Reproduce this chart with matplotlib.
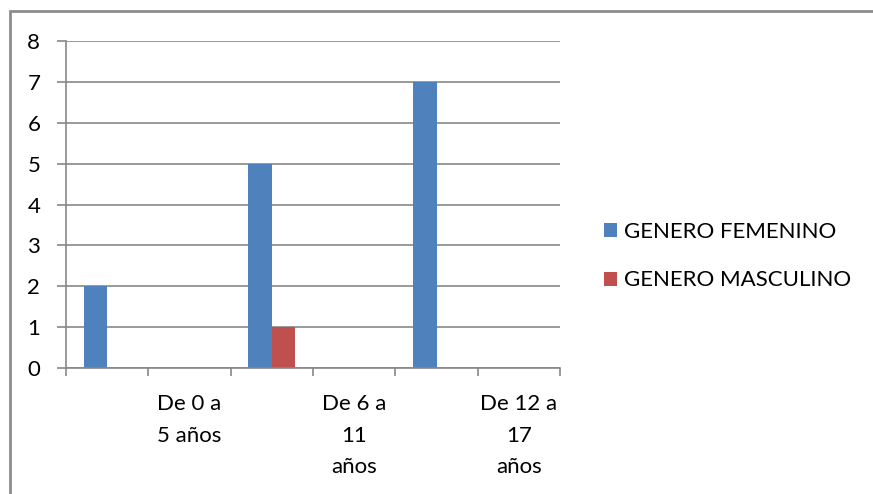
import numpy as np
import matplotlib.pyplot as plt
from matplotlib.patches import Rectangle

plt.rcParams['font.family'] = ['Lato', 'DejaVu Sans']

# rangos de edad (las casillas vacias separan los grupos)
categorias = ["", "De 0 a\n5 años", "", "De 6 a\n11\naños", "", "De 12 a\n17\naños"]
femenino = [2, 0, 5, 0, 7, 0]
masculino = [0, 0, 1, 0, 0, 0]
series = ["GENERO FEMENINO", "GENERO MASCULINO"]

azul = "#4F81BD"
rojo = "#C0504D"
gris = "#878787"

fig = plt.figure(figsize=(8.73, 4.94), dpi=100)
ax = fig.add_axes([66 / 873, 1 - 368 / 494, (560 - 66) / 873, (368 - 41) / 494])

x = np.arange(len(categorias))
w = 0.286
ax.bar(x - w / 2, femenino, w, color=azul, label=series[0])
ax.bar(x + w / 2, masculino, w, color=rojo, label=series[1])

ax.set_xlim(-0.5, len(categorias) - 0.5)
ax.set_ylim(0, 8)
ax.set_yticks(range(0, 9))
ax.yaxis.grid(True, color=gris, linewidth=1.2)
ax.set_axisbelow(True)

ax.set_xticks(x)
ax.set_xticklabels(categorias, fontsize=16, linespacing=1.7)
ax.set_xticks(np.arange(-0.5, len(categorias)), minor=True)
ax.tick_params(axis='x', which='major', length=0, pad=19)
ax.tick_params(axis='x', which='minor', length=6, color=gris, width=1.2)
ax.tick_params(axis='y', length=6.5, color=gris, width=1.2, pad=12, labelsize=16)

for s in ['top', 'right']:
    ax.spines[s].set_visible(False)
for s in ['left', 'bottom']:
    ax.spines[s].set_color(gris)
    ax.spines[s].set_linewidth(1.2)

fig.legend(loc='center left', bbox_to_anchor=(584 / 873, 1 - 256 / 494),
           frameon=False, fontsize=16, handlelength=0.6, handleheight=0.6,
           handletextpad=0.3, labelspacing=1.3)

# marco exterior del grafico
fig.patches.append(Rectangle((10 / 873, -0.05), 1.0, 1 - 11 / 494 + 0.05,
                             transform=fig.transFigure, fill=False,
                             edgecolor="#8c8c8c", linewidth=2))

fig.savefig("out.png", dpi=100)
